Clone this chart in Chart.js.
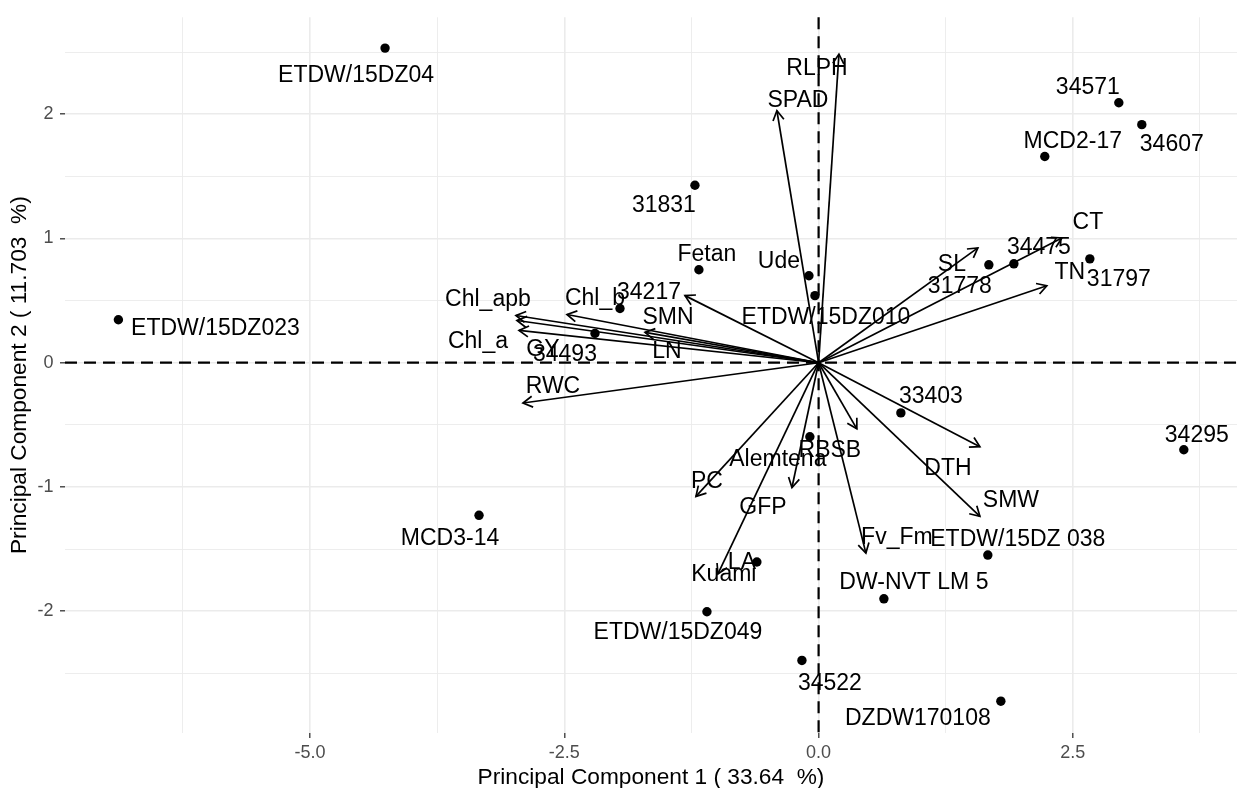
<!DOCTYPE html>
<html>
<head>
<meta charset="utf-8">
<script src="https://cdn.jsdelivr.net/npm/chart.js@4.4.1/dist/chart.umd.min.js"></script>
<style>
html,body{margin:0;padding:0;background:#ffffff;}
#wrap{width:1242px;height:788px;position:relative;}
</style>
</head>
<body>
<div id="wrap"><canvas id="c"></canvas></div>
<script>
// ---------- DATA ----------
const sampleNames = ['ETDW/15DZ04','ETDW/15DZ023','MCD3-14','31831','Fetan','Ude','34217','ETDW/15DZ010',
  '34493','34571','34607','MCD2-17','34475','31778','31797','33403','34295','ETDW/15DZ 038',
  'DW-NVT LM 5','DZDW170108','34522','ETDW/15DZ049','Kuami','Alemtena'];
const sampleX = [-4.263,-6.885,-3.339,-1.216,-1.177,-0.095,-1.953,-0.036,
  -2.199,2.952,3.178,2.224,1.920,1.674,2.667,0.809,3.591,1.664,
  0.642,1.792,-0.164,-1.098,-0.607,-0.086];
const sampleY = [2.532,0.346,-1.228,1.428,0.748,0.700,0.436,0.540,
  0.236,2.092,1.916,1.660,0.796,0.788,0.836,-0.404,-0.700,-1.548,
  -1.900,-2.724,-2.396,-2.004,-1.604,-0.596];

const varNames = ['RLPH','SPAD','SMN','Chl_apb','GY','Chl_a','Chl_b','LN','RWC','PC','LA','GFP',
  'RBSB','Fv_Fm','DTH','SMW','TN','CT','SL'];
const varX = [0.200,-0.410,-1.314,-2.976,-2.966,-2.946,-2.474,-1.707,-2.907,-1.206,-0.990,-0.262,
  0.376,0.465,1.586,1.586,2.244,2.392,1.566];
const varY = [2.484,2.028,0.540,0.380,0.340,0.260,0.388,0.244,-0.324,-1.076,-1.700,-1.004,
  -0.532,-1.532,-0.676,-1.236,0.620,1.004,0.924];

const xMajorTicks = [-5, -2.5, 0, 2.5];
const xMinorTicks = [-6.25, -3.75, -1.25, 1.25, 3.75];
const yMajorTicks = [-2, -1, 0, 1, 2];
const yMinorTicks = [-2.5, -1.5, -0.5, 0.5, 1.5, 2.5];
const xRange = [-7.41, 4.114];
const yRange = [-2.98, 2.78];
const xTitle = 'Principal Component 1 ( 33.64  %)';
const yTitle = 'Principal Component 2 ( 11.703  %)';

// ---------- STYLE (label offsets in px, from the repelled label layout) ----------
const sampleLabelOffset = [[-29,26],[97,7],[-29,21],[-31,18],[8,-17],[-30,-16],[29,-18],[11,20],
  [-30,19],[-31,-17],[30,18],[28,-17],[25,-18],[-29,20],[29,19],[30,-18],[13,-16],[30,-17],
  [30,-18],[-83,16],[28,21],[-29,19],[-33,11],[-32,21]];
const varLabelOffset = [[-22,13],[21,-12],[-17,20],[-28,-18],[26,27],[-41,9],[28,-18],[22,17],[30,-18],
  [11,-17],[24,-13],[-29,18],[-27,20],[31,-17],[-32,20],[31,-18],[23,-15],[26,-17],[-26,15]];

const FONT = "'Liberation Sans', Arial, Helvetica, sans-serif";
const LABEL_SIZE = 23;

Chart.defaults.font.family = FONT;

const datasets = [];
varNames.forEach((n, i) => {
  datasets.push({
    type: 'line', label: n, isArrow: true, varIndex: i,
    data: [{x: 0, y: 0}, {x: varX[i], y: varY[i]}],
    borderColor: '#000', borderWidth: 1.7, pointRadius: 0, fill: false, tension: 0
  });
});
datasets.push({
  type: 'scatter', label: 'samples', isSamples: true,
  data: sampleX.map((x, i) => ({x: x, y: sampleY[i]})),
  backgroundColor: '#000', borderColor: '#000', borderWidth: 0, pointRadius: 4.7
});

const zeroLines = {
  id: 'zeroLines',
  beforeDatasetsDraw(chart) {
    const {ctx, chartArea: a, scales: {x, y}} = chart;
    const px = x.getPixelForValue(0), py = y.getPixelForValue(0);
    ctx.save();
    ctx.strokeStyle = '#000';
    ctx.lineWidth = 2.2;
    ctx.setLineDash([12, 7]);
    ctx.beginPath(); ctx.moveTo(a.left, py); ctx.lineTo(a.right, py); ctx.stroke();
    ctx.beginPath(); ctx.moveTo(px, a.top); ctx.lineTo(px, a.bottom); ctx.stroke();
    ctx.restore();
  }
};

const arrowsAndLabels = {
  id: 'arrowsAndLabels',
  afterDatasetsDraw(chart) {
    const ctx = chart.ctx;
    ctx.save();
    // arrow heads
    ctx.strokeStyle = '#000';
    ctx.lineWidth = 1.7;
    ctx.lineJoin = 'miter';
    const L = 11, A = Math.PI / 6;
    chart.data.datasets.forEach((ds, di) => {
      if (!ds.isArrow) return;
      const m = chart.getDatasetMeta(di);
      const p0 = m.data[0], p1 = m.data[1];
      const ang = Math.atan2(p1.y - p0.y, p1.x - p0.x);
      ctx.beginPath();
      ctx.moveTo(p1.x - L * Math.cos(ang - A), p1.y - L * Math.sin(ang - A));
      ctx.lineTo(p1.x, p1.y);
      ctx.lineTo(p1.x - L * Math.cos(ang + A), p1.y - L * Math.sin(ang + A));
      ctx.stroke();
    });
    // labels
    ctx.fillStyle = '#000';
    ctx.font = LABEL_SIZE + 'px ' + FONT;
    ctx.textAlign = 'center';
    ctx.textBaseline = 'alphabetic';
    const base = 0.358 * LABEL_SIZE;
    chart.data.datasets.forEach((ds, di) => {
      const m = chart.getDatasetMeta(di);
      if (ds.isArrow) {
        const p1 = m.data[1];
        const o = varLabelOffset[ds.varIndex];
        ctx.fillText(varNames[ds.varIndex], p1.x + o[0], p1.y + o[1] + base);
      } else if (ds.isSamples) {
        m.data.forEach((pt, j) => {
          const o = sampleLabelOffset[j];
          ctx.fillText(sampleNames[j], pt.x + o[0], pt.y + o[1] + base);
        });
      }
    });
    ctx.restore();
  }
};

function tickList(minor, major) {
  return minor.concat(major).sort((a, b) => a - b).map(v => ({value: v}));
}

new Chart(document.getElementById('c'), {
  type: 'scatter',
  data: {datasets: datasets},
  options: {
    responsive: true,
    maintainAspectRatio: false,
    animation: false,
    devicePixelRatio: 1,
    layout: {padding: {left: 0, right: 5, top: 13, bottom: 0}},
    plugins: {legend: {display: false}, tooltip: {enabled: false}},
    scales: {
      x: {
        type: 'linear', min: xRange[0], max: xRange[1],
        afterBuildTicks: s => { s.ticks = tickList(xMinorTicks, xMajorTicks); },
        afterFit: s => { s.height = 55; },
        border: {display: false},
        grid: {
          color: '#ebebeb',
          lineWidth: c => (c.tick && xMajorTicks.includes(c.tick.value)) ? 1.6 : 0.9,
          tickLength: 5,
          tickWidth: 1.3,
          tickColor: c => (c.tick && xMajorTicks.includes(c.tick.value)) ? '#333333' : 'rgba(0,0,0,0)'
        },
        ticks: {
          autoSkip: false, maxRotation: 0, padding: 4, color: '#4d4d4d',
          font: {size: 18},
          callback: v => xMajorTicks.includes(v) ? v.toFixed(1) : ''
        },
        title: {
          display: true, text: xTitle, color: '#000',
          font: {size: 22.7, lineHeight: 0.9}, padding: {top: 0, bottom: 0}
        }
      },
      y: {
        type: 'linear', min: yRange[0], max: yRange[1],
        afterBuildTicks: s => { s.ticks = tickList(yMinorTicks, yMajorTicks); },
        afterFit: s => { s.width = 65; },
        border: {display: false},
        grid: {
          color: '#ebebeb',
          lineWidth: c => (c.tick && yMajorTicks.includes(c.tick.value)) ? 1.6 : 0.9,
          tickLength: 5,
          tickWidth: 1.3,
          tickColor: c => (c.tick && yMajorTicks.includes(c.tick.value)) ? '#333333' : 'rgba(0,0,0,0)'
        },
        ticks: {
          autoSkip: false, padding: 6.5, color: '#4d4d4d',
          font: {size: 18},
          callback: v => yMajorTicks.includes(v) ? String(v) : ''
        },
        title: {
          display: true, text: yTitle, color: '#000',
          font: {size: 22.7, lineHeight: 1}, padding: {top: 8, bottom: 0}
        }
      }
    }
  },
  plugins: [zeroLines, arrowsAndLabels]
});
</script>
</body>
</html>
